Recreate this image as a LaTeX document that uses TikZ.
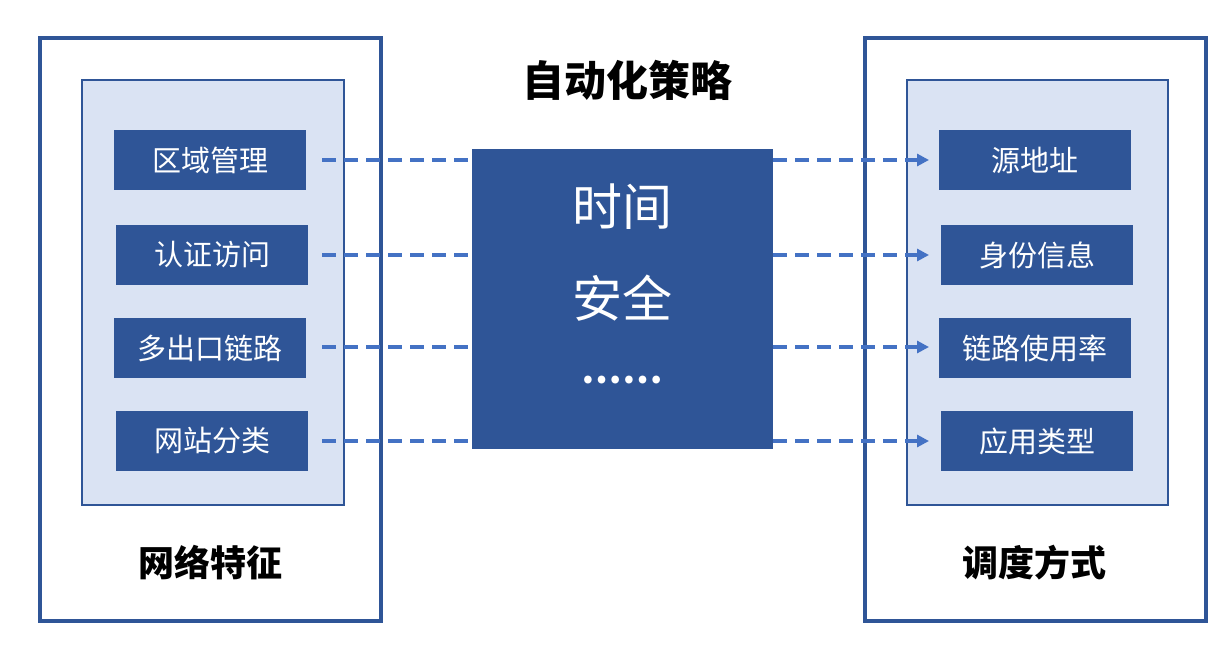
\documentclass[tikz,border=0pt]{standalone}
\usepackage{fontspec}
\setmainfont{Noto Sans CJK SC}
\usetikzlibrary{arrows.meta}
\definecolor{db}{HTML}{2F5597}
\definecolor{lb}{HTML}{DAE3F3}
\definecolor{ln}{HTML}{4472C4}
\begin{document}
\begin{tikzpicture}[x=1pt,y=-1pt,
  frame/.style={draw=db,line width=3.5pt,fill=white},
  panel/.style={draw=db,line width=1.5pt,fill=lb},
  item/.style={fill=db,text=white,font=\fontsize{29}{34}\selectfont},
  lbl/.style={font=\fontsize{36}{40}\selectfont\bfseries},
  dline/.style={ln,line width=3.5pt,dash pattern=on 14pt off 8pt},
  arr/.style={dline,-{Triangle[length=12pt,width=12pt]}}]
\useasboundingbox (0,0) rectangle (1230,660);
\draw[frame] (40,38) rectangle (381,621);
\draw[panel] (82,80) rectangle (344,505);
\draw[frame] (865,38) rectangle (1206,621);
\draw[panel] (907,80) rectangle (1168,505);
\path[item] (114,130) rectangle (306,190) node[midway] (l1) {区域管理};
\path[item] (116,225) rectangle (308,285) node[midway] (l2) {认证访问};
\path[item] (114,318) rectangle (306,378) node[midway] (l3) {多出口链路};
\path[item] (116,411) rectangle (308,471) node[midway] (l4) {网站分类};
\path[item] (939,130) rectangle (1131,190) node[midway] (r1) {源地址};
\path[item] (941,225) rectangle (1133,285) node[midway] (r2) {身份信息};
\path[item] (939,318) rectangle (1131,378) node[midway] (r3) {链路使用率};
\path[item] (941,411) rectangle (1133,471) node[midway] (r4) {应用类型};
\node[lbl] (lt) at (210,563) {网络特征};
\node[lbl] (rt) at (1034,563) {调度方式};
\node[font=\fontsize{42}{46}\selectfont\bfseries] (title) at (627,80) {自动化策略};
\fill[db] (472,149) rectangle (773,449);
\node[text=white,font=\fontsize{50}{56}\selectfont] (c1) at (622,207) {时间};
\node[text=white,font=\fontsize{50}{56}\selectfont] (c2) at (622,298) {安全};
\node[text=white,font=\fontsize{36}{40}\selectfont\bfseries] (c3) at (622,380) {……};
\foreach \i/\y in {1/160,2/255,3/347,4/441}{
  \coordinate (ls\i) at (322,\y);
  \coordinate (cl\i) at (472,\y);
  \coordinate (cr\i) at (773,\y);
  \coordinate (re\i) at (929,\y);
  \draw[dline] (ls\i) -- (cl\i);
  \draw[arr] (cr\i) -- (re\i);
}
\end{tikzpicture}
\end{document}
